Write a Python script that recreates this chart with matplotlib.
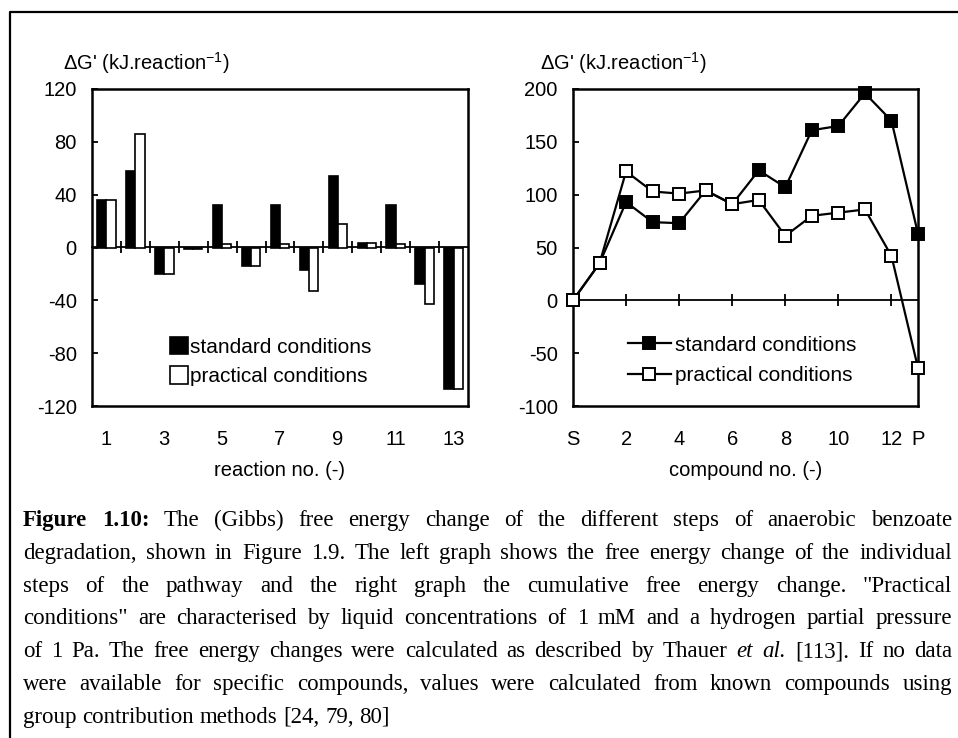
import matplotlib
matplotlib.use("Agg")
import matplotlib.pyplot as plt
from matplotlib.lines import Line2D
from matplotlib.ticker import NullFormatter
import numpy as np

plt.rcParams["font.family"] = ["Liberation Sans", "DejaVu Sans"]
plt.rcParams["mathtext.fontset"] = "custom"
plt.rcParams["mathtext.rm"] = "Liberation Sans"
plt.rcParams["axes.unicode_minus"] = False

W, H = 958, 738

# Left panel: free energy change of each reaction step (kJ/reaction)
reactions = np.arange(1, 14)
dg_std_rxn = [36, 58, -20, -1.5, 32, -14, 32, -17, 54, 3.5, 32, -28, -107]
dg_prac_rxn = [36, 86, -20, -1.5, 3, -14, 3, -33, 18, 3.5, 3, -43, -107]
rxn_ticks = [1, 3, 5, 7, 9, 11, 13]
rxn_yticks = [-120, -80, -40, 0, 40, 80, 120]

# Right panel: cumulative free energy change per compound
compounds = ["S", "1", "2", "3", "4", "5", "6", "7", "8", "9", "10", "11", "12", "P"]
dg_std_cum = [0, 35, 93, 74, 73, 104, 91, 123, 107, 161, 165, 196, 170, 63]
dg_prac_cum = [0, 35, 122, 103, 101, 104, 91, 95, 61, 80, 83, 86, 42, -64]
cmp_labels = ["S", "2", "4", "6", "8", "10", "12", "P"]
cmp_yticks = [-100, -50, 0, 50, 100, 150, 200]

caption_lines = [
    "Figure 1.10: The (Gibbs) free energy change of the different steps of anaerobic benzoate",
    "degradation, shown in Figure 1.9. The left graph shows the free energy change of the individual",
    "steps of the pathway and the right graph the cumulative free energy change. \"Practical",
    "conditions\" are characterised by liquid concentrations of 1 mM and a hydrogen partial pressure",
    "of 1 Pa. The free energy changes were calculated as described by Thauer et al. [113]. If no data",
    "were available for specific compounds, values were calculated from known compounds using",
    "group contribution methods [24, 79, 80]",
]
bold_words = {(0, 0), (0, 1)}
italic_words = {(4, 13), (4, 14)}

FS = 14.5
ylab = "ΔG' (kJ.reaction$^{\\mathrm{-1}}$)"


def px_rect(x0, y0, x1, y1):
    return [x0 / W, 1 - y1 / H, (x1 - x0) / W, (y1 - y0) / H]


def zero_axis(ax, ticks, ylim):
    # category axis drawn through y = 0, ticks crossing the line
    loc = (0 - ylim[0]) / (ylim[1] - ylim[0])
    sec = ax.secondary_xaxis(loc)
    for sp in sec.spines.values():
        sp.set_linewidth(1.3)
    sec.set_xticks(ticks)
    sec.xaxis.set_major_formatter(NullFormatter())
    sec.tick_params(direction="inout", length=9, width=1.3)
    return sec


def style_box(ax):
    for sp in ax.spines.values():
        sp.set_linewidth(1.8)
    ax.tick_params(axis="y", direction="in", length=4, width=1.3, pad=11, labelsize=FS)
    ax.tick_params(axis="x", length=0, pad=17, labelsize=FS)


fig = plt.figure(figsize=(W / 100, H / 100), dpi=100)

# ---- left: bars per reaction
ax1 = fig.add_axes(px_rect(92, 89, 468, 406))
bw = 0.32
ax1.bar(reactions - bw / 2, dg_std_rxn, bw, color="black", edgecolor="black",
        linewidth=1.2, label="standard conditions", zorder=3)
ax1.bar(reactions + bw / 2, dg_prac_rxn, bw, color="white", edgecolor="black",
        linewidth=1.2, label="practical conditions", zorder=3)
ax1.set_xlim(0.5, 13.5)
ax1.set_ylim(-120, 120)
ax1.set_xticks(rxn_ticks)
ax1.set_yticks(rxn_yticks)
style_box(ax1)
zero_axis(ax1, reactions[:-1] + 0.5, (-120, 120))
ax1.set_xlabel("reaction no. (-)", fontsize=FS, labelpad=9)
ax1.legend(loc="upper left", bbox_to_anchor=(0.18, 0.25), frameon=False,
           fontsize=15, borderpad=0, handlelength=0.85, handleheight=0.9,
           handletextpad=0.1, labelspacing=0.45)

# ---- right: cumulative lines per compound
ax2 = fig.add_axes(px_rect(573, 89, 918, 406))
xs = np.arange(len(compounds))
ax2.plot(xs, dg_std_cum, "-s", color="black", lw=1.6, ms=8, mfc="black",
         mec="black", mew=1.4, label="standard conditions", zorder=3, clip_on=False)
ax2.plot(xs, dg_prac_cum, "-s", color="black", lw=1.6, ms=8, mfc="white",
         mec="black", mew=1.4, label="practical conditions", zorder=4, clip_on=False)
ax2.set_xlim(0, len(compounds) - 1)
ax2.set_ylim(-100, 200)
lab_pos = [compounds.index(c) for c in cmp_labels]
ax2.set_xticks(lab_pos)
ax2.set_xticklabels(cmp_labels)
ax2.set_yticks(cmp_yticks)
style_box(ax2)
zero_axis(ax2, lab_pos[1:-1], (-100, 200))
ax2.set_xlabel("compound no. (-)", fontsize=FS, labelpad=9)
ax2.legend(loc="upper left", bbox_to_anchor=(0.128, 0.255), frameon=False,
           fontsize=15, borderpad=0, handlelength=2.1, handletextpad=0.2,
           labelspacing=0.55)

fig.text(63 / W, 1 - 63 / H, ylab, fontsize=FS, ha="left", va="center")
fig.text(540 / W, 1 - 63 / H, ylab, fontsize=FS, ha="left", va="center")

# frame around the figure (top and left edges)
fig.add_artist(Line2D([10 / W, 10 / W, 1], [0, 1 - 12 / H, 1 - 12 / H],
                      transform=fig.transFigure, color="black", lw=1.6))

# ---- justified caption
renderer = fig.canvas.get_renderer()
cap_x0, cap_x1 = 23, 952
base0, lead = 526, 32.8
serif = ["Liberation Serif", "DejaVu Serif"]


def word_text(i, j, w, size):
    weight = "bold" if (i, j) in bold_words else "normal"
    style = "italic" if (i, j) in italic_words else "normal"
    return fig.text(0, 0, w, fontsize=size, fontweight=weight, fontstyle=style,
                    family=serif, va="baseline", ha="left")


cap_size = 16.5
texts = []
for i, line in enumerate(caption_lines):
    texts.append([word_text(i, j, w, cap_size) for j, w in enumerate(line.split(" "))])

probe1 = word_text(-1, -1, "a b", cap_size)
probe2 = word_text(-1, -1, "ab", cap_size)
space_w = probe1.get_window_extent(renderer).width - probe2.get_window_extent(renderer).width
probe1.remove()
probe2.remove()

natural = []
for row in texts:
    ws = [t.get_window_extent(renderer).width for t in row]
    natural.append(sum(ws) + space_w * (len(ws) - 1))
scale = min(1.0, (cap_x1 - cap_x0) * 0.99 / max(natural))

for i, row in enumerate(texts):
    for t in row:
        t.set_fontsize(cap_size * scale)
    ws = [t.get_window_extent(renderer).width for t in row]
    if i < len(texts) - 1 and len(row) > 1:
        gap = (cap_x1 - cap_x0 - sum(ws)) / (len(row) - 1)
    else:
        gap = space_w * scale
    x = cap_x0
    yb = base0 + lead * i
    for t, w in zip(row, ws):
        t.set_position((x / W, 1 - yb / H))
        x += w + gap

fig.savefig("out.png", dpi=100)
